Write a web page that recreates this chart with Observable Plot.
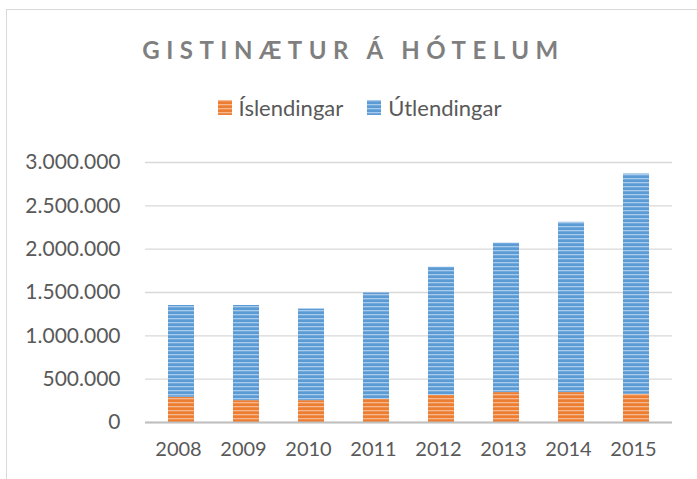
<!DOCTYPE html>
<html>
<head>
<meta charset="utf-8">
<script src="https://cdn.jsdelivr.net/npm/d3@7"></script>
<script src="https://cdn.jsdelivr.net/npm/@observablehq/plot@0.6"></script>
<style>
  html, body { margin: 0; padding: 0; background: #fff; width: 697px; height: 479px; overflow: hidden; }
  body { position: relative; font-family: Lato, "Open Sans", sans-serif; }
  #frame { position: absolute; left: 6px; top: 9px; width: 720px; height: 500px; border: 1px solid #d9d9d9; box-sizing: border-box; }
  #title { position: absolute; left: 0; width: 697px; top: 35px; text-align: center; font-size: 24px; font-weight: bold; letter-spacing: 6.5px; color: #7f7f7f; padding-left: 10px; box-sizing: border-box; }
  #legend { position: absolute; left: 0; width: 697px; top: 93px; text-align: center; font-size: 22px; color: #595959; padding-left: 22px; box-sizing: border-box; }
  #legend span.item { display: inline-flex; align-items: center; margin: 0 12px; }
  #legend svg { margin-right: 7px; }
  #chart { position: absolute; left: 0; top: 130px; }
</style>
</head>
<body>
<div id="frame"></div>
<div id="title">GISTINÆTUR Á HÓTELUM</div>
<div id="legend"></div>
<div id="chart"></div>
<script>
// Data
const years = ["2008", "2009", "2010", "2011", "2012", "2013", "2014", "2015"];
const seriesNames = ["Íslendingar", "Útlendingar"];
const islendingar = [291000, 252000, 252000, 268000, 314000, 345000, 345000, 326000];
const utlendingar = [1059000, 1098000, 1057000, 1226000, 1478000, 1725000, 1965000, 2541000];
const yTicks = [0, 500000, 1000000, 1500000, 2000000, 2500000, 3000000];

const colors = { "Íslendingar": ["#ED7D31", "#F6B891"], "Útlendingar": ["#5B9BD5", "#A9CBEB"] };
const patIds = { "Íslendingar": "patO", "Útlendingar": "patB" };

const rows = [];
years.forEach((y, i) => {
  rows.push({ year: y, series: seriesNames[0], value: islendingar[i] });
  rows.push({ year: y, series: seriesNames[1], value: utlendingar[i] });
});

const locale = d3.formatLocale({ decimal: ",", thousands: ".", grouping: [3], currency: ["", ""] });
const fmt = locale.format(",d");

function patternDefs(suffix) {
  return seriesNames.map(s => {
    const [base, light] = colors[s];
    return `<pattern id="${patIds[s]}${suffix}" patternUnits="userSpaceOnUse" width="8" height="4">
      <rect width="8" height="4" fill="${base}"/>
      <rect y="0" width="8" height="1.3" fill="${light}"/>
    </pattern>`;
  }).join("");
}

const plot = Plot.plot({
  width: 697,
  height: 349,
  marginLeft: 145,
  marginRight: 25,
  marginTop: 32,
  marginBottom: 57,
  style: { fontFamily: "Lato, 'Open Sans', sans-serif", fontSize: "20px", color: "#595959", background: "transparent" },
  x: { domain: years, paddingInner: 0.6, paddingOuter: 0.3, label: null, tickSize: 0, tickPadding: 19 },
  y: { domain: [0, 3000000], ticks: yTicks, tickFormat: fmt, label: null, tickSize: 0, tickPadding: 25 },
  color: { domain: seriesNames, range: seriesNames.map(s => `url(#${patIds[s]})`) },
  marks: [
    Plot.gridY(yTicks, { stroke: "#d9d9d9", strokeOpacity: 1, strokeWidth: 1.3 }),
    Plot.axisY(yTicks, { tickFormat: fmt, tickSize: 0, tickPadding: 25, fontSize: 21, label: null }),
    Plot.axisX(years, { tickSize: 0, tickPadding: 19, fontSize: 20, label: null, dx: -3 }),
    Plot.barY(rows, Plot.stackY({ x: "year", y: "value", fill: "series", order: seriesNames })),
    Plot.ruleY([0], { stroke: "#bfbfbf", strokeWidth: 2 })
  ]
});

const defs = document.createElementNS("http://www.w3.org/2000/svg", "defs");
defs.innerHTML = patternDefs("");
plot.insertBefore(defs, plot.firstChild);
plot.querySelectorAll("text").forEach(t => t.setAttribute("fill", "#595959"));
document.getElementById("chart").appendChild(plot);

// Legend
const legend = document.getElementById("legend");
seriesNames.forEach(s => {
  const item = document.createElement("span");
  item.className = "item";
  item.innerHTML = `<svg width="14" height="15"><defs>${patternDefs("L")}</defs><rect width="14" height="15" fill="url(#${patIds[s]}L)"/></svg><span>${s}</span>`;
  legend.appendChild(item);
});
</script>
</body>
</html>
